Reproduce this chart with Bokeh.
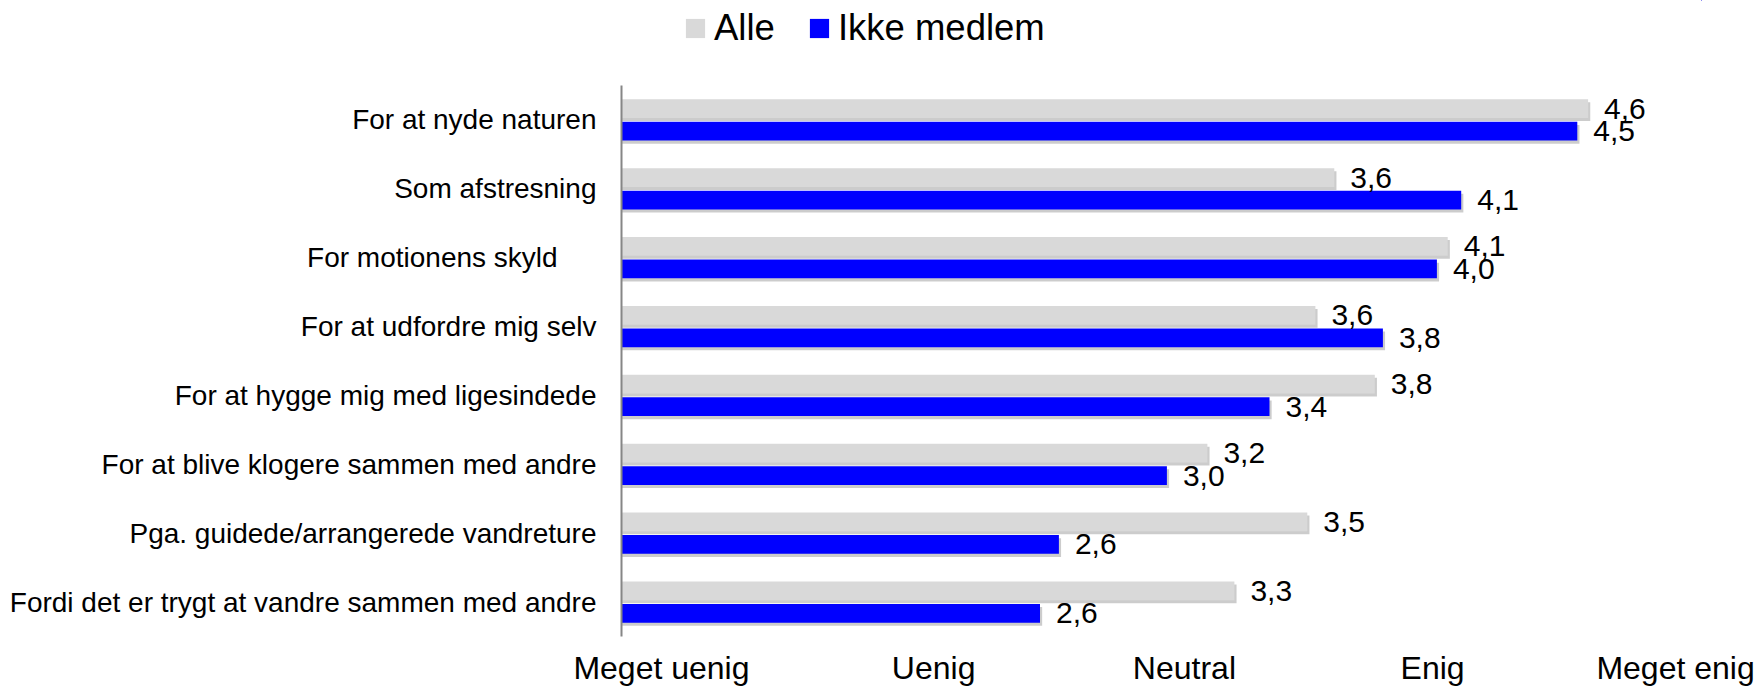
from bokeh.plotting import figure
from bokeh.models import (ColumnDataSource, FactorRange, FixedTicker, Legend, LegendItem, Range1d)
from bokeh.layouts import column
from bokeh.transform import dodge
from bokeh.core.properties import value
from bokeh.embed import file_html
from bokeh.resources import INLINE

# ---- data (top to bottom) ----
categories = [
    "For at nyde naturen",
    "Som afstresning",
    "For motionens skyld\u00a0\u00a0\u00a0\u00a0\u00a0",
    "For at udfordre mig selv",
    "For at hygge mig med ligesindede",
    "For at blive klogere sammen med andre",
    "Pga. guidede/arrangerede vandreture",
    "Fordi det er trygt at vandre sammen med andre",
]
alle_values = [4.58, 3.64, 4.06, 3.57, 3.79, 3.17, 3.54, 3.27]
ikke_values = [4.54, 4.11, 4.02, 3.82, 3.40, 3.02, 2.62, 2.55]
alle_labels = ["4,6", "3,6", "4,1", "3,6", "3,8", "3,2", "3,5", "3,3"]
ikke_labels = ["4,5", "4,1", "4,0", "3,8", "3,4", "3,0", "2,6", "2,6"]
scale_labels = ["Meget uenig", "Uenig", "Neutral", "Enig", "Meget enig"]
series_names = ["Alle", "Ikke medlem"]

FONT = "Liberation Sans"
GRAY = "#D9D9D9"
BLUE = "#0000FF"

src = ColumnDataSource(dict(
    cat=categories,
    alle=alle_values, ikke=ikke_values,
    alle_lbl=alle_labels, ikke_lbl=ikke_labels,
    alle_sh=[v + 0.008 for v in alle_values],
    ikke_sh=[v + 0.008 for v in ikke_values],
))

W = 1760
LEG_H = 85
MAIN_H = 688 - LEG_H
BOTTOM, LEFT, RIGHT = 51, 621, 59

# ---- legend strip (its proxy bars lie outside its empty ranges) ----
lf = figure(width=W, height=LEG_H, title=None, output_backend="svg",
            toolbar_location=None, x_axis_location=None, y_axis_location=None,
            x_range=Range1d(-200, -100), y_range=Range1d(-200, -100),
            min_border_left=0, min_border_right=0, min_border_top=0,
            min_border_bottom=0)
lf.xgrid.visible = False
lf.ygrid.visible = False
lf.outline_line_color = None
l_alle = lf.hbar(y="alle", left=1, right="alle", height=0.1, source=src,
                 fill_color=GRAY, line_color=None)
l_ikke = lf.hbar(y="ikke", left=1, right="ikke", height=0.1, source=src,
                 fill_color=BLUE, line_color=None)
legend = Legend(items=[LegendItem(label=series_names[0], renderers=[l_alle], index=0),
                       LegendItem(label=series_names[1], renderers=[l_ikke], index=0)],
                orientation="horizontal", location=(62, 36),
                glyph_width=24, glyph_height=24, label_standoff=7, spacing=32,
                padding=0, margin=0, border_line_color=None,
                background_fill_alpha=0,
                label_text_font=FONT, label_text_font_size="36.5px",
                label_text_color="black")
lf.add_layout(legend, "center")

# ---- main chart ----
yr = FactorRange(factors=list(reversed(categories)))
p = figure(width=W, height=MAIN_H, title=None, y_range=yr, x_range=(1, 5),
           output_backend="svg", toolbar_location=None,
           min_border_left=LEFT, min_border_right=RIGHT,
           min_border_top=0, min_border_bottom=BOTTOM)

OFF = 0.164
H = 0.272
SH = 0.045

# shadows
p.hbar(y=dodge("cat", OFF - SH, range=yr), left=1, right="alle_sh", height=H,
       source=src, fill_color="#000000", fill_alpha=0.2, line_color=None)
p.hbar(y=dodge("cat", -OFF - SH, range=yr), left=1, right="ikke_sh", height=H,
       source=src, fill_color="#000000", fill_alpha=0.2, line_color=None)

p.hbar(y=dodge("cat", OFF, range=yr), left=1, right="alle", height=H,
       source=src, fill_color=GRAY, line_color=None)
p.hbar(y=dodge("cat", -OFF, range=yr), left=1, right="ikke", height=H,
       source=src, fill_color=BLUE, line_color=None)

p.text(x="alle", y=dodge("cat", OFF, range=yr), text="alle_lbl", source=src,
       x_offset=16, text_baseline="middle", text_align="left",
       text_font=value(FONT), text_font_size="30px", text_color="black")
p.text(x="ikke", y=dodge("cat", -OFF, range=yr), text="ikke_lbl", source=src,
       x_offset=16, text_baseline="middle", text_align="left",
       text_font=value(FONT), text_font_size="30px", text_color="black")

p.xgrid.visible = False
p.ygrid.visible = False
p.outline_line_color = None

xa = p.xaxis[0]
tick_pos = [1.148, 2.156, 3.085, 4.004, 4.904]
xa.ticker = FixedTicker(ticks=tick_pos)
xa.major_label_overrides = {t: s for t, s in zip(tick_pos, scale_labels)}
xa.axis_line_color = None
xa.major_tick_line_color = None
xa.minor_tick_line_color = None
xa.major_tick_out = 0
xa.major_tick_in = 0
xa.major_label_text_font = FONT
xa.major_label_text_font_size = "32px"
xa.major_label_text_color = "black"
xa.major_label_standoff = 13

ya = p.yaxis[0]
ya.axis_line_color = "#868686"
ya.axis_line_width = 2
ya.major_tick_line_color = None
ya.minor_tick_line_color = None
ya.major_tick_out = 0
ya.major_tick_in = 0
ya.major_label_text_font = FONT
ya.major_label_text_font_size = "28px"
ya.major_label_text_color = "black"
ya.major_label_standoff = 25

open("out.html", "w").write(file_html(column(lf, p, spacing=0), INLINE))
